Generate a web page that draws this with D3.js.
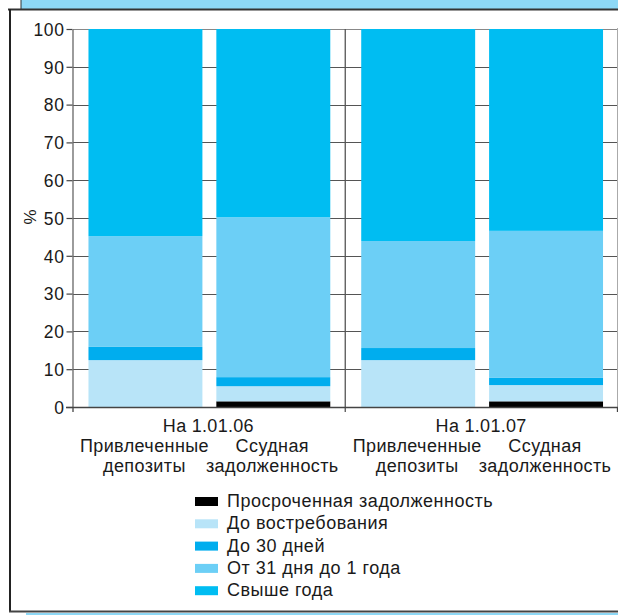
<!DOCTYPE html>
<html><head><meta charset="utf-8">
<script src="https://cdn.jsdelivr.net/npm/d3@7"></script>
<style>
html,body{margin:0;padding:0;background:#fff;}
text{font-family:"Liberation Sans",Arial,Helvetica,sans-serif;fill:#1a1a1a;}
</style></head>
<body><svg id="c" width="618" height="615"></svg>
<script>
// ---- data ----
const dates = ["На 1.01.06", "На 1.01.07"];
const kinds = ["Привлеченные депозиты", "Ссудная задолженность"];
const seriesNames = ["Просроченная задолженность", "До востребования", "До 30 дней", "От 31 дня до 1 года", "Свыше года"];
const seriesColors = ["#000000", "#b8e4f8", "#00adee", "#6ccff6", "#00bdf2"];
// bars in order: 06 deposits, 06 loans, 07 deposits, 07 loans
const overdue = [0, 1.5, 0, 1.5];
const demand  = [12.4, 4.0, 12.4, 4.3];
const days30  = [3.5, 2.4, 3.2, 1.9];
const d31y1   = [29.3, 42.3, 28.3, 38.9];
const over1y  = [54.8, 49.8, 56.1, 53.4];
const yTicks = [0,10,20,30,40,50,60,70,80,90,100];

const svg = d3.select("#c");
const x0 = 73, x1 = 618, yTop = 29, yBot = 407;

// frame
svg.append("rect").attr("x",21).attr("y",0).attr("width",597).attr("height",9).attr("fill","#8dd8f6");
svg.append("line").attr("x1",21).attr("x2",21).attr("y1",0).attr("y2",9).attr("stroke","#333");
svg.append("line").attr("x1",8).attr("x2",618).attr("y1",9.5).attr("y2",9.5).attr("stroke","#333").attr("stroke-width",2);
svg.append("line").attr("x1",10).attr("x2",10).attr("y1",9).attr("y2",612).attr("stroke","#222").attr("stroke-width",2);
svg.append("line").attr("x1",9).attr("x2",618).attr("y1",611.5).attr("y2",611.5).attr("stroke","#444").attr("stroke-width",2);
svg.append("rect").attr("x",26).attr("y",613).attr("width",592).attr("height",2).attr("fill","#8dd8f6");

// scales
const y = d3.scaleLinear().domain([0,100]).range([yBot, yTop]);
const xg = d3.scaleBand().domain(dates).range([x0, x1 + 0.5]);
const xk = d3.scaleBand().domain(kinds).range([0, xg.bandwidth()]).paddingInner(0.109).paddingOuter(0.121);

// gridlines
svg.append("g").selectAll("line").data(yTicks.slice(1)).join("line")
  .attr("x1", x0).attr("x2", x1).attr("y1", d=>Math.round(y(d))+0.5).attr("y2", d=>Math.round(y(d))+0.5)
  .attr("stroke", d=> d===100 ? "#888" : "#555").attr("stroke-width", 1.2);
// right border & separator
svg.append("line").attr("x1",617.5).attr("x2",617.5).attr("y1",yTop-1).attr("y2",yBot).attr("stroke","#aaa");
svg.append("line").attr("x1",xg("На 1.01.07")-0.5).attr("x2",xg("На 1.01.07")-0.5).attr("y1",yTop).attr("y2",yBot+5).attr("stroke","#555").attr("stroke-width",1.3);

// stacked bars
const bars = [];
dates.forEach((dt, gi) => kinds.forEach((k, ki) => {
  const i = gi*2 + ki;
  bars.push({date: dt, kind: k, vals: [overdue[i], demand[i], days30[i], d31y1[i], over1y[i]]});
}));
const gBars = svg.append("g");
bars.forEach(b => {
  let cum = 0;
  b.vals.forEach((v, si) => {
    if (v > 0) {
      gBars.append("rect")
        .attr("x", xg(b.date) + xk(b.kind))
        .attr("width", xk.bandwidth())
        .attr("y", y(cum + v))
        .attr("height", y(cum) - y(cum + v))
        .attr("fill", seriesColors[si]);
    }
    cum += v;
  });
});

// y axis
const yAxis = d3.axisLeft(y).tickValues(yTicks).tickSize(6).tickSizeOuter(0).tickPadding(2);
const ga = svg.append("g").attr("transform", `translate(${x0-0.5},0)`).call(yAxis);
ga.select(".domain").attr("stroke","#666").attr("stroke-width",1.3);
ga.selectAll(".tick line").attr("stroke","#444").attr("stroke-width",1.2);
ga.selectAll(".tick text").attr("font-size",17.5).attr("fill","#1a1a1a").attr("letter-spacing","0.6px")
  .attr("font-family",'"Liberation Sans",Arial,sans-serif').attr("dy","0.36em");

// x baseline
svg.append("line").attr("x1",x0-7).attr("x2",x1).attr("y1",yBot+0.5).attr("y2",yBot+0.5).attr("stroke","#444").attr("stroke-width",1.3);
[x0, x1-0.5].forEach(xx => svg.append("line").attr("x1",xx).attr("x2",xx).attr("y1",yBot).attr("y2",yBot+5).attr("stroke","#444").attr("stroke-width",1.3));

// % label
svg.append("text").attr("transform","translate(36,217) rotate(-90)").attr("text-anchor","middle")
  .attr("font-size",17).text("%");

// x labels
const fs = 18;
dates.forEach(dt => {
  svg.append("text").attr("x", xg(dt) + xg.bandwidth()/2 - 1).attr("y", 432).attr("text-anchor","middle")
    .attr("font-size", fs).attr("letter-spacing","0.3px").text(dt);
  kinds.forEach(k => {
    const cx = xg(dt) + xk(k) + xk.bandwidth()/2 - 1;
    const parts = k.split(" ");
    parts.forEach((p, j) => svg.append("text").attr("x", cx).attr("y", 452 + j*20).attr("text-anchor","middle")
      .attr("font-size", fs).attr("letter-spacing","0.4px").text(p));
  });
});

// legend
const lg = svg.append("g");
seriesNames.forEach((n, i) => {
  const top = 497 + i*22.3;
  lg.append("rect").attr("x",195).attr("y",top).attr("width",23).attr("height",9).attr("fill",seriesColors[i]);
  lg.append("text").attr("x",227).attr("y",top+10).attr("font-size",fs).attr("letter-spacing","0.5px").text(n);
});
</script></body></html>
